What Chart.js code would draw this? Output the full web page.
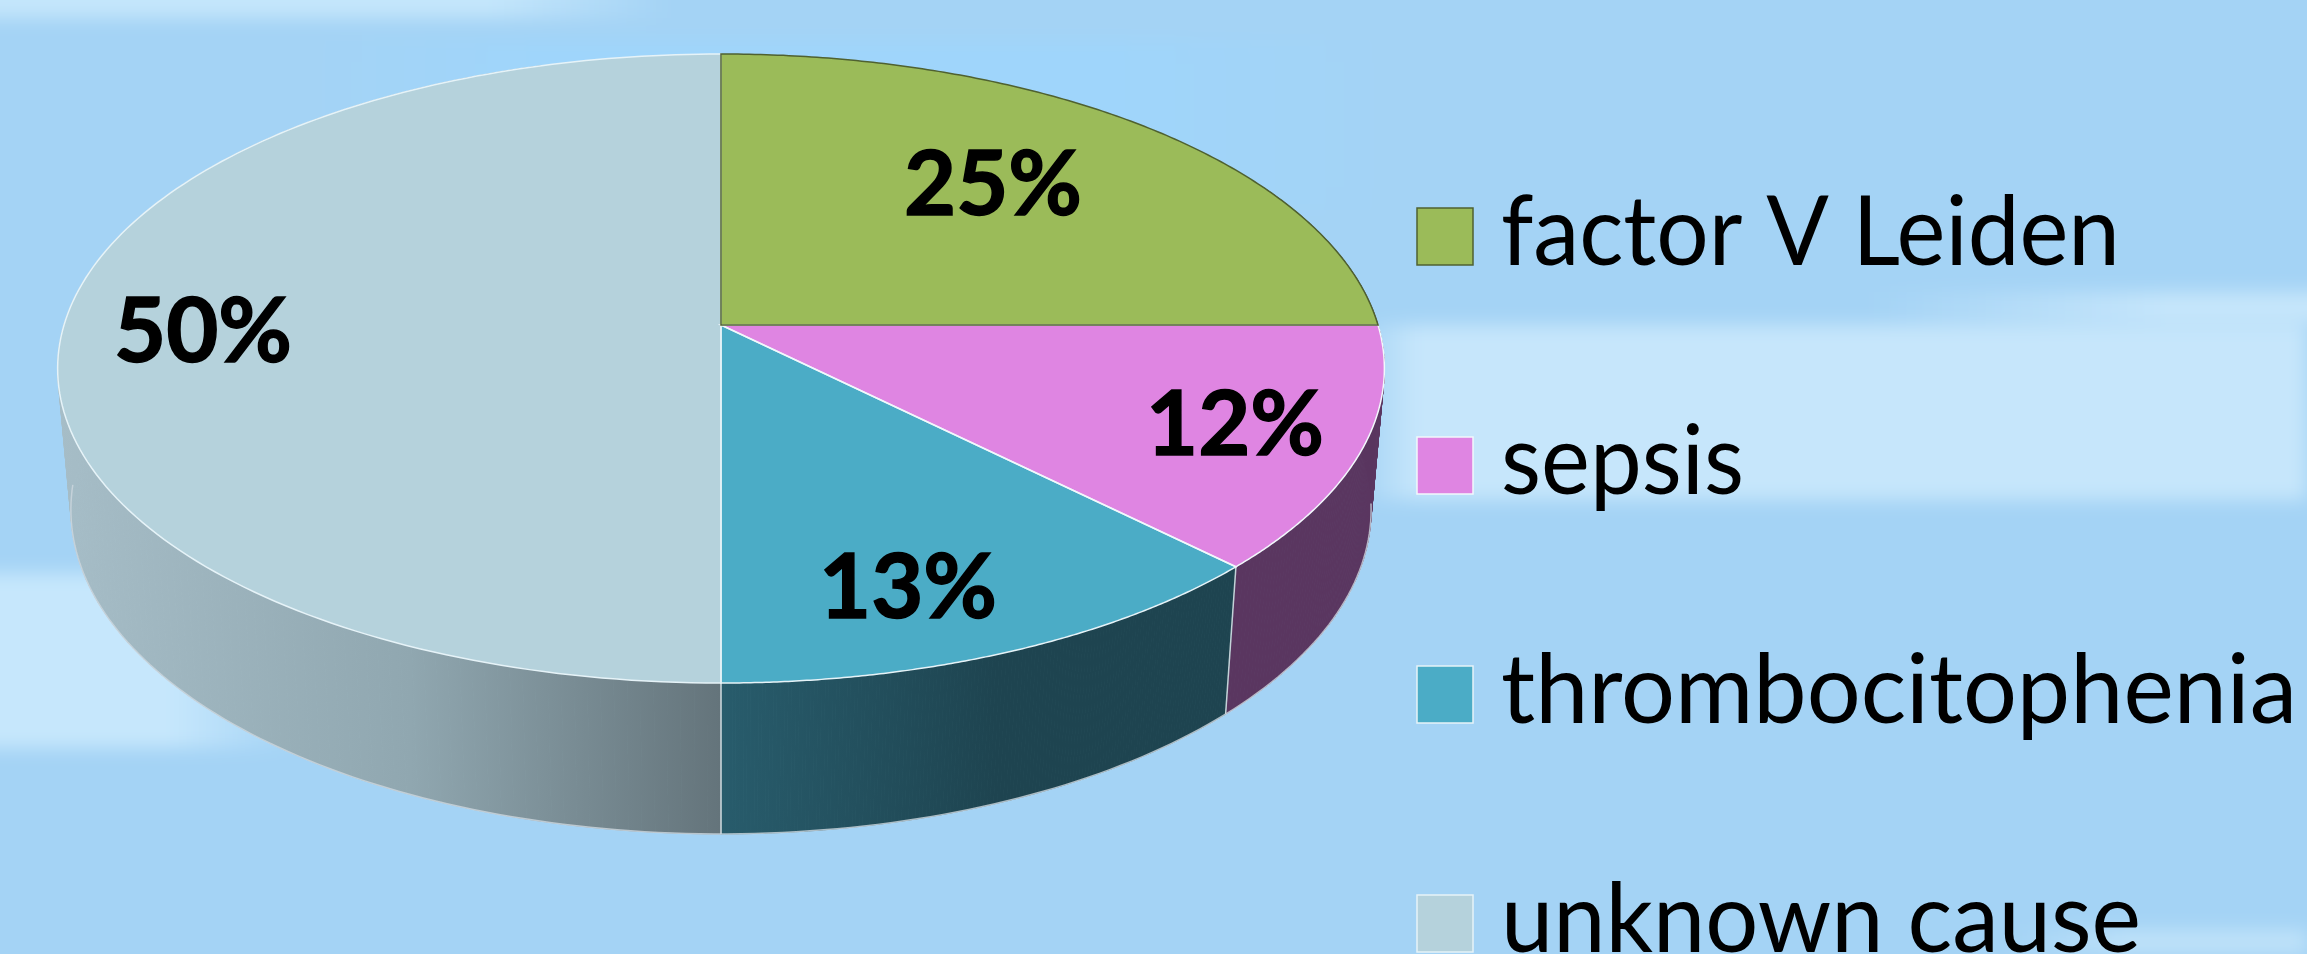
<!DOCTYPE html>
<html>
<head>
<meta charset="utf-8">
<title>Causes</title>
<script src="https://cdn.jsdelivr.net/npm/chart.js@4"></script>
<style>
  html, body { margin: 0; padding: 0; width: 2307px; height: 954px; overflow: hidden; background: #a4d3f5; }
  #sky {
    position: absolute; left: -30px; top: -30px; width: 2367px; height: 1014px;
    filter: blur(9px);
    background-color: #a4d3f5;
    background-repeat: no-repeat;
    background-image:
      linear-gradient(to right, rgba(198,230,251,0) 0, #c6e6fb 60px),
      linear-gradient(to right, rgba(198,230,251,0) 0, #c6e6fb 300px),
      linear-gradient(to right, #c6e7fc 200px, rgba(198,231,252,0) 330px),
      linear-gradient(to right, #c4e6fb 520px, rgba(196,230,251,0) 700px),
      linear-gradient(to right, rgba(191,226,249,0) 0, #bfe2f9 120px),
      linear-gradient(to right, rgba(159,213,251,0) 0, #9fd5fb 250px, #9fd5fb 800px, rgba(159,213,251,0) 1100px);
    background-size: 950px 175px, 500px 30px, 330px 175px, 730px 48px, 300px 24px, 1400px 170px;
    background-position: 1387px 355px, 1897px 322px, 0 603px, 0 0, 2037px 960px, 330px 70px;
  }
  canvas { display: block; position: relative; }
</style>
</head>
<body>
<div id="sky"></div>
<canvas id="chart" width="2307" height="954"></canvas>
<script>
// Values
const categories = ["factor V Leiden", "sepsis", "thrombocitophenia", "unknown cause"];
const shares = [25, 12.5, 12.5, 50];
const shareLabels = ["25%", "12%", "13%", "50%"];
const topColors = ["#9bbb59", "#df85e2", "#4bacc6", "#b5d2dc"];
const edgeColors = ["#4f6130", "#f2f8fc", "#e6f3f8", "#e6f3f8"];

// Perspective of the tilted pie
const centerX = 721, centerY = 325, radiusX = 657, radiusY = 308.5, tilt = 0.1383;

function topPoint(angle) {
  const u = Math.cos(angle), v = Math.sin(angle);
  const w = 1 - tilt * v;
  return { x: centerX + radiusX * u / w, y: centerY + radiusY * v / w };
}

function bottomPoint(angle) {
  const p = topPoint(angle);
  return { x: centerX + (p.x - centerX) * 0.98, y: centerY + 139.8 + (p.y - centerY) * 1.031 };
}

function wallFill(ctx, index) {
  if (index === 1) return "#5a3660";
  const g = ctx.createLinearGradient(60, 0, 1230, 0);
  if (index === 2) {
    g.addColorStop(0.564, "#285c6c");
    g.addColorStop(0.8, "#1e4450");
    g.addColorStop(1, "#1e4450");
  } else {
    g.addColorStop(0, "#a6bdc7");
    g.addColorStop(0.3, "#90a7b0");
    g.addColorStop(0.564, "#64747b");
    g.addColorStop(1, "#64747b");
  }
  return g;
}

function drawWall(ctx, index, start, end) {
  const steps = 160;
  ctx.fillStyle = wallFill(ctx, index);
  ctx.strokeStyle = ctx.fillStyle;
  ctx.lineWidth = 1;
  for (let i = 0; i < steps; i++) {
    const a = start + (end - start) * i / steps;
    const b = start + (end - start) * (i + 1) / steps;
    const p1 = topPoint(a), p2 = topPoint(b), p3 = bottomPoint(b), p4 = bottomPoint(a);
    ctx.beginPath();
    ctx.moveTo(p1.x, p1.y);
    ctx.lineTo(p2.x, p2.y);
    ctx.lineTo(p3.x, p3.y);
    ctx.lineTo(p4.x, p4.y);
    ctx.closePath();
    ctx.fill();
    ctx.stroke();
  }
}

function traceArc(ctx, pointFn, start, end, joined) {
  const steps = 160;
  for (let i = 0; i <= steps; i++) {
    const p = pointFn(start + (end - start) * i / steps);
    if (i === 0 && !joined) ctx.moveTo(p.x, p.y); else ctx.lineTo(p.x, p.y);
  }
}

const tiltedPie = {
  id: "tiltedPie",
  // the arcs keep their angles from the doughnut controller, only the flat drawing is replaced
  beforeDatasetsDraw(chart) {
    const ctx = chart.ctx;
    const arcs = chart.getDatasetMeta(0).data;

    ctx.save();
    [1, 2, 3].forEach(i => {
      const props = arcs[i].getProps(["startAngle", "endAngle"], true);
      // walls run a bit past the visible part so the silhouette closes, the top face hides the rest
      const start = i === 1 ? props.startAngle - 0.5 : props.startAngle;
      const end = i === 3 ? Math.min(props.endAngle, Math.PI * 1.4) : props.endAngle;
      drawWall(ctx, i, start, end);
    });

    // thin light edges on the wall
    ctx.strokeStyle = "rgba(225,235,240,0.85)";
    ctx.lineWidth = 1.5;
    [2, 3].forEach(i => {
      const props = arcs[i].getProps(["startAngle", "endAngle"], true);
      const t = topPoint(props.startAngle), b = bottomPoint(props.startAngle);
      ctx.beginPath();
      ctx.moveTo(t.x, t.y);
      ctx.lineTo(b.x, b.y);
      ctx.stroke();
    });
    ctx.strokeStyle = "rgba(205,215,222,0.8)";
    ctx.beginPath();
    traceArc(ctx, bottomPoint, 0.12, Math.PI * 0.98);
    ctx.stroke();

    // top face
    arcs.forEach((arc, i) => {
      const props = arc.getProps(["startAngle", "endAngle"], true);
      ctx.beginPath();
      ctx.moveTo(centerX, centerY);
      traceArc(ctx, topPoint, props.startAngle, props.endAngle, true);
      ctx.closePath();
      ctx.fillStyle = topColors[i];
      ctx.fill();
    });
    for (let i = arcs.length - 1; i >= 0; i--) {
      const props = arcs[i].getProps(["startAngle", "endAngle"], true);
      ctx.beginPath();
      ctx.moveTo(centerX, centerY);
      traceArc(ctx, topPoint, props.startAngle, props.endAngle, true);
      ctx.closePath();
      ctx.strokeStyle = edgeColors[i];
      ctx.lineWidth = 1.5;
      ctx.stroke();
    }
    ctx.restore();

    // share labels
    const spots = [[993, 186], [1235, 426], [908, 589], [203, 333]];
    ctx.save();
    ctx.font = "bold 90px Lato";
    ctx.fillStyle = "#000";
    ctx.strokeStyle = "#000";
    ctx.lineWidth = 1.5;
    ctx.textAlign = "center";
    ctx.textBaseline = "middle";
    shareLabels.forEach((text, i) => {
      ctx.fillText(text, spots[i][0], spots[i][1], 178);
      ctx.strokeText(text, spots[i][0], spots[i][1], 178);
    });
    ctx.restore();

    // legend
    ctx.save();
    ctx.font = "96px Lato";
    ctx.textBaseline = "alphabetic";
    ctx.textAlign = "left";
    const widths = [619, 243, 796, 640];
    categories.forEach((name, i) => {
      const boxTop = 208 + i * 229;
      ctx.fillStyle = topColors[i];
      ctx.fillRect(1417, boxTop, 56, 57);
      ctx.strokeStyle = edgeColors[i];
      ctx.lineWidth = 1.5;
      ctx.strokeRect(1417, boxTop, 56, 57);
      ctx.fillStyle = "#000";
      ctx.fillText(name, 1501, boxTop + 57, widths[i]);
    });
    ctx.restore();

    return false;
  }
};

new Chart(document.getElementById("chart"), {
  type: "pie",
  data: {
    labels: categories,
    datasets: [{ data: shares, backgroundColor: topColors, borderColor: edgeColors }]
  },
  options: {
    responsive: false,
    animation: false,
    plugins: {
      legend: { display: false },
      tooltip: { enabled: false }
    }
  },
  plugins: [tiltedPie]
});
</script>
</body>
</html>
